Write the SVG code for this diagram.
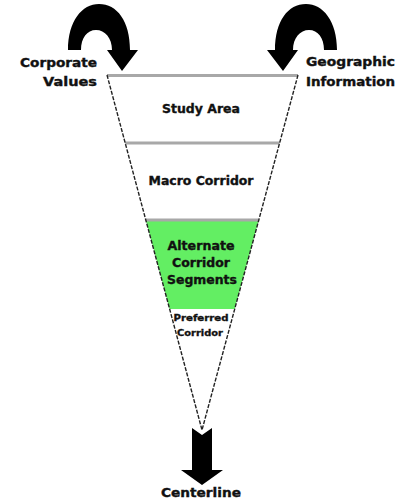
<svg xmlns="http://www.w3.org/2000/svg" width="401" height="499" viewBox="0 0 401 499">
<style>
.t{font-family:"DejaVu Sans","Liberation Sans",sans-serif;font-weight:bold;fill:#111;stroke:#111;stroke-width:0.35;}
.c{text-anchor:middle;}
.seg{stroke:none;}
.edge{stroke:#222;stroke-width:1.4;stroke-dasharray:4 1.5;fill:none;}
.hl{stroke:#a8a8a8;stroke-width:3;}
.arr{fill:#000;}
</style>
<defs>
<path id="curl" d="M68 50 C68 21 82 4 99 4 C117 4 130 21 130 50 L138 50 L122 71 L107 50 L112 50 C112 38 105 30 96 30 C87 30 81 38 81 50 Z"/>
</defs>
<rect width="401" height="499" fill="#fff"/>
<g id="study-area">
<polygon class="seg" fill="#fff" points="107,75 298,75 279.6,143 125.2,143"/>
<text class="t c" x="201" y="112.5" font-size="11.5" textLength="78" lengthAdjust="spacingAndGlyphs">Study Area</text>
</g>
<g id="macro-corridor">
<polygon class="seg" fill="#fff" points="125.2,143 279.6,143 258.8,220 145.8,220"/>
<text class="t c" x="201" y="184.5" font-size="11.5" textLength="105" lengthAdjust="spacingAndGlyphs">Macro Corridor</text>
</g>
<g id="alternate-corridor-segments">
<polygon class="seg" fill="#63ee63" points="145.8,220 258.8,220 234.7,309 169.6,309"/>
<text class="t c" x="201" y="249.5" font-size="11.5" textLength="67" lengthAdjust="spacingAndGlyphs">Alternate</text>
<text class="t c" x="201" y="266.5" font-size="11.5" textLength="58" lengthAdjust="spacingAndGlyphs">Corridor</text>
<text class="t c" x="202" y="284" font-size="11.5" textLength="70" lengthAdjust="spacingAndGlyphs">Segments</text>
</g>
<g id="preferred-corridor">
<polygon class="seg" fill="#fff" points="169.6,309 234.7,309 202,430"/>
<text class="t c" x="201" y="320.5" font-size="9.5" textLength="55" lengthAdjust="spacingAndGlyphs">Preferred</text>
<text class="t c" x="200" y="336" font-size="9.5" textLength="46" lengthAdjust="spacingAndGlyphs">Corridor</text>
</g>
<g id="funnel-lines">
<line class="hl" x1="107" y1="75.5" x2="298" y2="75.5"/>
<line class="hl" x1="125.2" y1="143" x2="279.6" y2="143"/>
<line class="hl" x1="145.8" y1="220" x2="258.8" y2="220" stroke="#444" stroke-width="2"/>
<line class="edge" x1="107" y1="75" x2="202" y2="430"/>
<line class="edge" x1="298" y1="75" x2="202" y2="430"/>
</g>
<g id="corporate-values">
<text class="t" x="97" y="67" font-size="11.5" text-anchor="end" textLength="77" lengthAdjust="spacingAndGlyphs">Corporate</text>
<text class="t" x="97" y="86" font-size="11.5" text-anchor="end" textLength="54" lengthAdjust="spacingAndGlyphs">Values</text>
</g>
<g id="geographic-information">
<text class="t" x="306" y="66" font-size="11.5" textLength="89" lengthAdjust="spacingAndGlyphs">Geographic</text>
<text class="t" x="306" y="86" font-size="11.5" textLength="89" lengthAdjust="spacingAndGlyphs">Information</text>
</g>
<g id="centerline">
<text class="t c" x="201" y="497" font-size="11.5" textLength="80" lengthAdjust="spacingAndGlyphs">Centerline</text>
</g>
<g id="connectors">
<use href="#curl" class="arr"/>
<use href="#curl" class="arr" transform="translate(405,0) scale(-1,1)"/>
<polygon class="arr" points="192,428 202,435 212,428 212,470 223,470 202,485 181,470 192,470"/>
</g>
</svg>
